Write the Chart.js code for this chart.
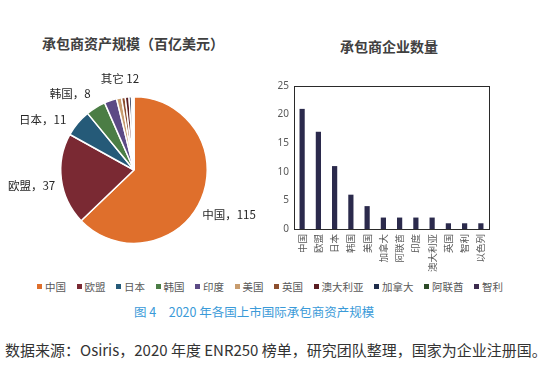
<!DOCTYPE html>
<html><head><meta charset="utf-8">
<script src="https://cdn.jsdelivr.net/npm/chart.js@4"></script>
<style>
body{margin:0;width:550px;height:370px;background:#fff;position:relative;overflow:hidden;font-family:"Noto Sans CJK SC","Noto Sans",sans-serif;}
.t{position:absolute;white-space:nowrap;}
#legend{position:absolute;left:37px;top:279px;display:flex;align-items:center;font-size:10.5px;color:#595959;}
#legend .it{display:flex;align-items:center;margin-right:10.5px;}
#legend .sw{width:5px;height:5px;margin-right:3px;}
</style></head><body>
<div class="t" style="left:0;width:266px;text-align:center;top:33px;font-size:14px;font-weight:bold;color:#404040;line-height:20px;">承包商资产规模（百亿美元）</div>
<div class="t" style="left:290px;width:198px;text-align:center;top:36px;font-size:14px;font-weight:bold;color:#404040;line-height:20px;">承包商企业数量</div>
<div style="position:absolute;left:0;top:60px;width:270px;height:190px;"><canvas id="pie"></canvas></div>
<div style="position:absolute;left:270px;top:75px;width:230px;height:200px;"><canvas id="bar"></canvas></div>
<div id="legend"></div>
<div class="t" style="left:134px;top:303px;font-size:12.5px;color:#3a9ad8;line-height:18px;">图 4　2020 年各国上市国际承包商资产规模</div>
<div class="t" style="left:5px;top:340px;font-size:15px;color:#333;line-height:20px;">数据来源：Osiris，2020 年度 ENR250 榜单，研究团队整理，国家为企业注册国。</div>
<script>
// Pie data
const pieLabels = ['中国','欧盟','日本','韩国','印度','美国','英国','澳大利亚','加拿大','阿联酋','智利'];
const pieValues = [115, 37, 11, 8, 5, 2, 1.5, 1.5, 1, 0.5, 0.5];
const pieColors = ['#df6f2c','#7a2933','#255a78','#4b7d45','#5c4a85','#c89c6e','#8d4f2e','#5a1d22','#1f2d4b','#2d4a28','#3c2b4e'];
// Bar data
const barLabels = ['中国','欧盟','日本','韩国','美国','加拿大','阿联酋','印度','澳大利亚','英国','智利','以色列'];
const barValues = [21, 17, 11, 6, 4, 2, 2, 2, 2, 1, 1, 1];
const barTicks = [0, 5, 10, 15, 20, 25];

// legend
const lg = document.getElementById('legend');
pieLabels.forEach((l,i)=>{
  const it=document.createElement('div');it.className='it';
  const sw=document.createElement('div');sw.className='sw';sw.style.background=pieColors[i];
  const tx=document.createElement('span');tx.textContent=l;
  it.appendChild(sw);it.appendChild(tx);lg.appendChild(it);
});

// label groups for pie
const groups = [
  {name:'中国', idx:[0], sep:'，', nudge:[0,4]},
  {name:'欧盟', idx:[1], sep:'，', nudge:[0,2]},
  {name:'日本', idx:[2], sep:'，', nudge:[-12,16]},
  {name:'韩国', idx:[3], sep:'，', nudge:[-10,12]},
  {name:'其它', idx:[4,5,6,7,8,9,10], sep:' ', nudge:[7,10]}
];
const pieLabelPlugin = {
  id:'pieLabels',
  afterDatasetsDraw(chart){
    const ctx=chart.ctx, arcs=chart.getDatasetMeta(0).data, data=chart.data.datasets[0].data;
    ctx.save();
    ctx.font='11.5px "Noto Sans CJK SC"';ctx.fillStyle='#262626';ctx.textAlign='center';ctx.textBaseline='middle';
    groups.forEach(g=>{
      const a0=arcs[g.idx[0]], a1=arcs[g.idx[g.idx.length-1]];
      const mid=(a0.startAngle+a1.endAngle)/2, r=a0.outerRadius+30;
      const v=g.idx.reduce((s,i)=>s+data[i],0);
      const x=a0.x+Math.cos(mid)*r+g.nudge[0], y=a0.y+Math.sin(mid)*r+g.nudge[1];
      ctx.fillText(g.name+g.sep+v, x, y);
    });
    ctx.restore();
  }
};
new Chart(document.getElementById('pie'),{
  type:'pie',
  data:{labels:pieLabels,datasets:[{data:pieValues,backgroundColor:pieColors,borderColor:'#fff',borderWidth:1.5}]},
  options:{responsive:true,maintainAspectRatio:false,animation:false,
    layout:{padding:{left:60,right:62,top:36,bottom:6}},
    plugins:{legend:{display:false},tooltip:{enabled:false}}},
  plugins:[pieLabelPlugin]
});

const boxPlugin={id:'box',afterDraw(chart){const a=chart.chartArea,ctx=chart.ctx;ctx.save();ctx.strokeStyle='#2a2a2a';ctx.lineWidth=1;ctx.strokeRect(Math.round(a.left)+0.5,Math.round(a.top)+0.5,Math.round(a.right-a.left),Math.round(a.bottom-a.top));ctx.restore();}};
new Chart(document.getElementById('bar'),{
  type:'bar',
  data:{labels:barLabels,datasets:[{data:barValues,backgroundColor:'#2b2a4c',barPercentage:0.32,categoryPercentage:1}]},
  options:{responsive:true,maintainAspectRatio:false,animation:false,
    layout:{padding:{left:0,right:11,top:8,bottom:0}},
    plugins:{legend:{display:false},tooltip:{enabled:false}},
    scales:{
      x:{grid:{display:false,drawTicks:false},border:{display:false},
        ticks:{autoSkip:false,minRotation:90,maxRotation:90,padding:5,color:'#595959',font:{size:9.5,family:'"Noto Sans CJK SC"'}},
        afterFit(s){s.height=46;}},
      y:{min:0,max:25,grid:{display:false,drawTicks:false},border:{display:false},
        afterBuildTicks(s){s.ticks=barTicks.map(v=>({value:v}));},
        ticks:{padding:5,color:'#595959',font:{size:10,family:'"Noto Sans"'}},
        afterFit(s){s.width=24;}}
    }},
  plugins:[boxPlugin]
});
</script>
</body></html>
